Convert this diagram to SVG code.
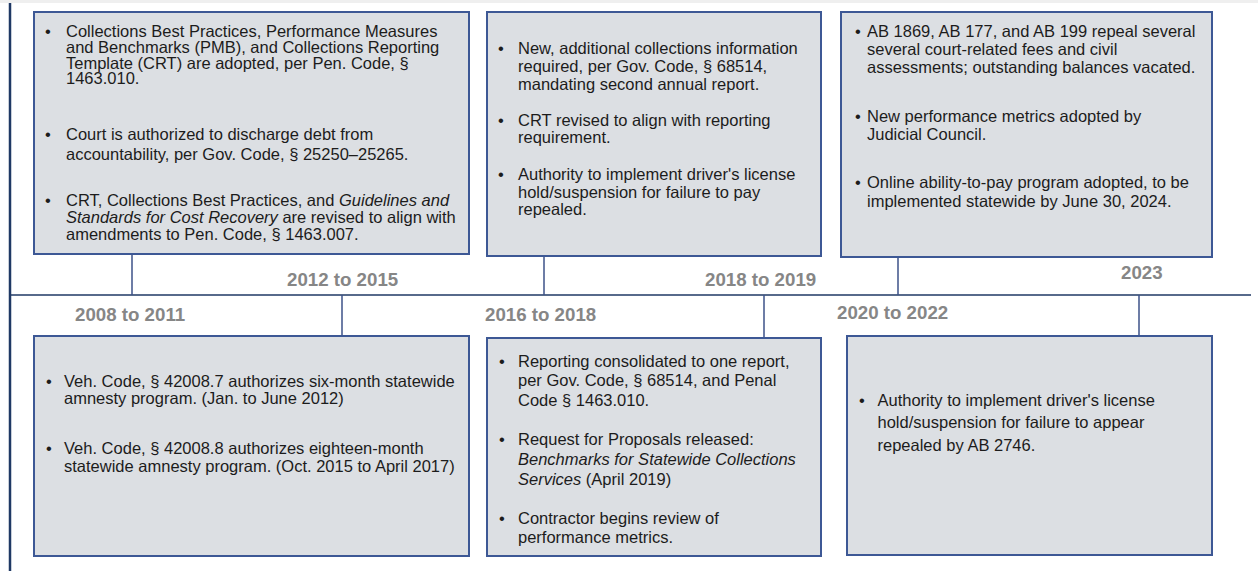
<svg xmlns="http://www.w3.org/2000/svg" width="1258" height="571" viewBox="0 0 1258 571">
<style>
.box{fill:#dcdfe3;stroke:#3d5895;stroke-width:2}
.t{font-family:"Liberation Sans",Arial,sans-serif;font-size:16.5px;fill:#1c1c1c}
.i{font-style:italic}
.yr{font-family:"Liberation Sans",Arial,sans-serif;font-size:18.7px;font-weight:bold;fill:#868686}
.ln{stroke:#3d5288;stroke-width:1.5;fill:none}
</style>
<rect x="0" y="0" width="1258" height="3" fill="#efefef"/>
<line x1="10" y1="3" x2="10" y2="571" stroke="#1f3864" stroke-width="2.5"/>
<g id="connectors">
<line class="ln" x1="11" y1="295" x2="1251" y2="295" style="stroke:#1f3864"/>
<line class="ln" x1="132" y1="254" x2="132" y2="295"/>
<line class="ln" x1="342" y1="295" x2="342" y2="336"/>
<line class="ln" x1="544" y1="256" x2="544" y2="295"/>
<line class="ln" x1="764" y1="295" x2="764" y2="338"/>
<line class="ln" x1="898" y1="257" x2="898" y2="295"/>
<line class="ln" x1="1139" y1="295" x2="1139" y2="336"/>
</g>
<g id="years">
<text class="yr" x="75" y="321">2008 to 2011</text>
<text class="yr" x="287" y="286">2012 to 2015</text>
<text class="yr" x="485" y="321">2016 to 2018</text>
<text class="yr" x="705" y="286">2018 to 2019</text>
<text class="yr" x="837" y="319">2020 to 2022</text>
<text class="yr" x="1121" y="279">2023</text>
</g>
<g id="box1">
<rect class="box" x="34" y="12" width="435" height="242"/>
<text class="t" x="45" y="37">•</text>
<text class="t" x="66" y="37">Collections Best Practices, Performance Measures</text>
<text class="t" x="66" y="53">and Benchmarks (PMB), and Collections Reporting</text>
<text class="t" x="66" y="68.5">Template (CRT) are adopted, per Pen. Code, §</text>
<text class="t" x="66" y="84">1463.010.</text>
<text class="t" x="45" y="140">•</text>
<text class="t" x="66" y="140">Court is authorized to discharge debt from</text>
<text class="t" x="66" y="160">accountability, per Gov. Code, § 25250–25265.</text>
<text class="t" x="45" y="206">•</text>
<text class="t" x="66" y="206">CRT, Collections Best Practices, and <tspan class="i">Guidelines and</tspan></text>
<text class="t" x="66" y="223"><tspan class="i">Standards for Cost Recovery</tspan> are revised to align with</text>
<text class="t" x="66" y="240">amendments to Pen. Code, § 1463.007.</text>
</g>
<g id="box2">
<rect class="box" x="487" y="12" width="334" height="244"/>
<text class="t" x="498" y="54">•</text>
<text class="t" x="518" y="54">New, additional collections information</text>
<text class="t" x="518" y="71.5">required, per Gov. Code, § 68514,</text>
<text class="t" x="518" y="89.5">mandating second annual report.</text>
<text class="t" x="498" y="126">•</text>
<text class="t" x="518" y="126">CRT revised to align with reporting</text>
<text class="t" x="518" y="143">requirement.</text>
<text class="t" x="498" y="180">•</text>
<text class="t" x="518" y="180">Authority to implement driver's license</text>
<text class="t" x="518" y="197.5">hold/suspension for failure to pay</text>
<text class="t" x="518" y="215">repealed.</text>
</g>
<g id="box3">
<rect class="box" x="841" y="12" width="371" height="245"/>
<text class="t" x="855" y="37">•</text>
<text class="t" x="867" y="37">AB 1869, AB 177, and AB 199 repeal several</text>
<text class="t" x="867" y="55">several court-related fees and civil</text>
<text class="t" x="867" y="73">assessments; outstanding balances vacated.</text>
<text class="t" x="855" y="122">•</text>
<text class="t" x="867" y="122">New performance metrics adopted by</text>
<text class="t" x="867" y="140">Judicial Council.</text>
<text class="t" x="855" y="188">•</text>
<text class="t" x="867" y="188">Online ability-to-pay program adopted, to be</text>
<text class="t" x="867" y="206.5">implemented statewide by June 30, 2024.</text>
</g>
<g id="box4">
<rect class="box" x="34" y="336" width="435" height="220"/>
<text class="t" x="46" y="386.5">•</text>
<text class="t" x="64" y="386.5">Veh. Code, § 42008.7 authorizes six-month statewide</text>
<text class="t" x="64" y="404">amnesty program. (Jan. to June 2012)</text>
<text class="t" x="46" y="454">•</text>
<text class="t" x="64" y="454">Veh. Code, § 42008.8 authorizes eighteen-month</text>
<text class="t" x="64" y="471.5">statewide amnesty program. (Oct. 2015 to April 2017)</text>
</g>
<g id="box5">
<rect class="box" x="487" y="338" width="334" height="218"/>
<text class="t" x="499" y="366.5">•</text>
<text class="t" x="518" y="366.5">Reporting consolidated to one report,</text>
<text class="t" x="518" y="386">per Gov. Code, § 68514, and Penal</text>
<text class="t" x="518" y="405.5">Code § 1463.010.</text>
<text class="t" x="499" y="445">•</text>
<text class="t" x="518" y="445">Request for Proposals released:</text>
<text class="t i" x="518" y="465">Benchmarks for Statewide Collections</text>
<text class="t" x="518" y="485"><tspan class="i">Services</tspan> (April 2019)</text>
<text class="t" x="499" y="524">•</text>
<text class="t" x="518" y="524">Contractor begins review of</text>
<text class="t" x="518" y="543">performance metrics.</text>
</g>
<g id="box6">
<rect class="box" x="847" y="336" width="365" height="219"/>
<text class="t" x="859" y="405.5">•</text>
<text class="t" x="877.5" y="405.5">Authority to implement driver's license</text>
<text class="t" x="877.5" y="428">hold/suspension for failure to appear</text>
<text class="t" x="877.5" y="450.5">repealed by AB 2746.</text>
</g>
</svg>
